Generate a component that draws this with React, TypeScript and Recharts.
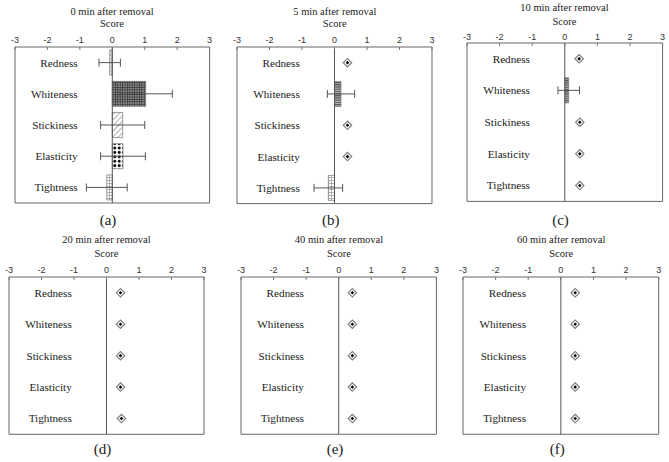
import React from "react";
import {
  ComposedChart,
  Bar,
  Line,
  XAxis,
  YAxis,
  ErrorBar,
  ReferenceLine,
  ReferenceArea,
  Cell,
} from "recharts";

// ---------- data ----------
const categories = ["Redness", "Whiteness", "Stickiness", "Elasticity", "Tightness"];
const xTicks = [-3, -2, -1, 0, 1, 2, 3];
const panelTitles = [
  "0 min after removal",
  "5 min after removal",
  "10 min after removal",
  "20 min after removal",
  "40 min after removal",
  "60 min after removal",
];
const panelLetters = ["(a)", "(b)", "(c)", "(d)", "(e)", "(f)"];

// panel (a) 0 min
const barsA = [-0.08, 1.03, 0.32, 0.33, -0.17];
const errsA = [0.33, 0.82, 0.68, 0.69, 0.63];
const diamondsA = [null, null, null, null, null];
// panel (b) 5 min
const barsB = [null, 0.2, null, null, -0.19];
const errsB = [null, 0.42, null, null, 0.44];
const diamondsB = [0.4, null, 0.4, 0.4, null];
// panel (c) 10 min
const barsC = [null, 0.12, null, null, null];
const errsC = [null, 0.33, null, null, null];
const diamondsC = [0.44, null, 0.46, 0.46, 0.46];
// panel (d) 20 min
const barsD = [null, null, null, null, null];
const errsD = [null, null, null, null, null];
const diamondsD = [0.43, 0.43, 0.43, 0.43, 0.46];
// panel (e) 40 min
const barsE = [null, null, null, null, null];
const errsE = [null, null, null, null, null];
const diamondsE = [0.42, 0.42, 0.42, 0.42, 0.42];
// panel (f) 60 min
const barsF = [null, null, null, null, null];
const errsF = [null, null, null, null, null];
const diamondsF = [0.44, 0.44, 0.44, 0.44, 0.44];

// ---------- styles ----------
const fillsA = ["pRed", "pWgrid", "pStick", "pDots", "pGrid"];
const fillsB = ["pRed", "pHoriz", "pStick", "pDots", "pGrid"];
const fillsC = ["pRed", "pHoriz", "pStick", "pDots", "pGrid"];

const SERIF = "'Liberation Serif', 'Times New Roman', serif";
const SANS = "'Liberation Sans', Arial, sans-serif";

type Geo = { L: number; T: number; R: number; B: number; titleY: number; scoreY: number; letterY: number; tickGap: number };

const geos: Geo[] = [
  { L: 14.7, T: 46.7, R: 209.3, B: 202.7, titleY: 12, scoreY: 24, letterY: 220, tickGap: 9.2 },
  { L: 237.3, T: 46.7, R: 432.3, B: 203.3, titleY: 12, scoreY: 24, letterY: 220, tickGap: 9.2 },
  { L: 466.7, T: 43.3, R: 662.3, B: 201.7, titleY: 8.3, scoreY: 22, letterY: 220, tickGap: 7.6 },
  { L: 9, T: 276.7, R: 204, B: 434, titleY: 240.7, scoreY: 254.7, letterY: 449, tickGap: 9.2 },
  { L: 241.3, T: 276.7, R: 436.7, B: 434, titleY: 240.7, scoreY: 254.7, letterY: 449, tickGap: 9.2 },
  { L: 463.3, T: 276.7, R: 659, B: 434, titleY: 240.7, scoreY: 254.7, letterY: 449, tickGap: 9.2 },
];

const Patterns = () => (
  <svg width={0} height={0} style={{ position: "absolute" }}>
    <defs>
      <pattern id="pRed" width={3} height={4} patternUnits="userSpaceOnUse">
        <rect width={3} height={4} fill="#fff" />
        <rect x={0.5} y={0.5} width={2} height={3} fill="none" stroke="#999" strokeWidth={0.6} />
      </pattern>
      <pattern id="pWgrid" width={2.4} height={2.4} patternUnits="userSpaceOnUse">
        <rect width={2.4} height={2.4} fill="#9a9a9a" />
        <path d="M0 0.5 H2.4 M0.5 0 V2.4" stroke="#333" strokeWidth={0.8} />
      </pattern>
      <pattern id="pStick" width={4} height={4} patternUnits="userSpaceOnUse" patternTransform="rotate(45)">
        <rect width={4} height={4} fill="#fff" />
        <line x1={0} y1={0} x2={0} y2={4} stroke="#777" strokeWidth={1.2} />
      </pattern>
      <pattern id="pDots" width={4.4} height={4.4} patternUnits="userSpaceOnUse">
        <rect width={4.4} height={4.4} fill="#fff" />
        <circle cx={2.2} cy={2.2} r={1.5} fill="#000" />
      </pattern>
      <pattern id="pGrid" width={3} height={3} patternUnits="userSpaceOnUse">
        <rect width={3} height={3} fill="#fff" />
        <path d="M0 0.5 H3 M0.5 0 V3" stroke="#888" strokeWidth={0.6} />
      </pattern>
      <pattern id="pHoriz" width={3} height={2.2} patternUnits="userSpaceOnUse">
        <rect width={3} height={2.2} fill="#bbb" />
        <line x1={0} y1={0.6} x2={3} y2={0.6} stroke="#333" strokeWidth={0.9} />
      </pattern>
    </defs>
  </svg>
);

const Diamond = (props: any) => {
  const { cx, cy, value } = props;
  if (value == null || cx == null || cy == null) return <g key={props.key} />;
  const d = (r: number) => `${cx},${cy - r} ${cx + r},${cy} ${cx},${cy + r} ${cx - r},${cy}`;
  return (
    <g key={props.key}>
      <polygon points={d(5)} fill="#7a7a7a" />
      <polygon points={d(3.4)} fill="#fff" />
      <polygon points={d(1.8)} fill="#000" />
    </g>
  );
};

type PanelProps = {
  geo: Geo;
  title: string;
  letter: string;
  bars: (number | null)[];
  errs: (number | null)[];
  diamonds: (number | null)[];
  fills?: string[];
};

const PAD = 8;
const TOPPAD = 20;

const Panel = ({ geo, title, letter, bars, errs, diamonds, fills }: PanelProps) => {
  const w = geo.R - geo.L;
  const h = geo.B - geo.T;
  const data = categories.map((c, i) => ({ name: c, value: bars[i], err: errs[i], dia: diamonds[i] }));
  const cx = geo.L + w / 2;
  const CatTick = (p: any) => (
    <text
      x={p.x + w * 0.322}
      y={p.y}
      dy="0.35em"
      textAnchor="end"
      fontFamily={SERIF}
      fontSize={11.2}
      fill="#222"
    >
      {p.payload.value}
    </text>
  );
  const textBox = (y: number, text: string, size: number, dx = 0) => (
    <div
      style={{
        position: "absolute",
        left: cx - 100 + dx,
        width: 200,
        top: y - size * 0.6,
        height: size * 1.2,
        lineHeight: `${size * 1.2}px`,
        textAlign: "center",
        fontFamily: SERIF,
        fontSize: size,
        color: "#222",
        whiteSpace: "nowrap",
      }}
    >
      {text}
    </div>
  );
  return (
    <>
      {textBox(geo.titleY, title, 10.5)}
      {textBox(geo.scoreY, "Score", 10.5)}
      {textBox(geo.letterY, letter, 15, -4)}
      <div style={{ position: "absolute", left: geo.L - PAD, top: geo.T - TOPPAD }}>
        <ComposedChart
          width={w + 2 * PAD}
          height={h + TOPPAD + PAD}
          data={data}
          layout="vertical"
          margin={{ top: TOPPAD - 1, left: PAD - 1, right: PAD, bottom: PAD }}
          barCategoryGap="10%"
        >
          <XAxis
            type="number"
            orientation="top"
            domain={[-3, 3]}
            ticks={xTicks}
            height={1}
            axisLine={false}
            tickLine={{ stroke: "#777" }}
            tickSize={-3}
            tickMargin={geo.tickGap - 2}
            interval={0}
            allowDataOverflow
            tick={{ fontFamily: SANS, fontSize: 9, fill: "#333" }}
          />
          <YAxis
            type="category"
            dataKey="name"
            width={1}
            axisLine={false}
            tickLine={false}
            tickSize={0}
            tickMargin={0}
            interval={0}
            tick={CatTick}
          />
          <ReferenceArea x1={-3} x2={3} fill="none" fillOpacity={0} stroke="#666" strokeWidth={1} ifOverflow="visible" />
          <ReferenceLine x={0} stroke="#555" strokeWidth={1} />
          <Bar dataKey="value" isAnimationActive={false} stroke="#777" strokeWidth={0.7}>
            {data.map((d, i) => (
              <Cell key={i} fill={fills ? `url(#${fills[i]})` : "#ccc"} />
            ))}
            <ErrorBar dataKey="err" direction="x" width={4} stroke="#555" strokeWidth={1} />
          </Bar>
          <Line
            dataKey="dia"
            stroke="none"
            isAnimationActive={false}
            dot={Diamond}
            activeDot={false}
            connectNulls={false}
          />
        </ComposedChart>
      </div>
    </>
  );
};

export default function App() {
  return (
    <div style={{ position: "absolute", left: 0, top: 0, width: 669, height: 462, background: "#fff", overflow: "hidden" }}>
      <Patterns />
      <Panel geo={geos[0]} title={panelTitles[0]} letter={panelLetters[0]} bars={barsA} errs={errsA} diamonds={diamondsA} fills={fillsA} />
      <Panel geo={geos[1]} title={panelTitles[1]} letter={panelLetters[1]} bars={barsB} errs={errsB} diamonds={diamondsB} fills={fillsB} />
      <Panel geo={geos[2]} title={panelTitles[2]} letter={panelLetters[2]} bars={barsC} errs={errsC} diamonds={diamondsC} fills={fillsC} />
      <Panel geo={geos[3]} title={panelTitles[3]} letter={panelLetters[3]} bars={barsD} errs={errsD} diamonds={diamondsD} />
      <Panel geo={geos[4]} title={panelTitles[4]} letter={panelLetters[4]} bars={barsE} errs={errsE} diamonds={diamondsE} />
      <Panel geo={geos[5]} title={panelTitles[5]} letter={panelLetters[5]} bars={barsF} errs={errsF} diamonds={diamondsF} />
    </div>
  );
}
